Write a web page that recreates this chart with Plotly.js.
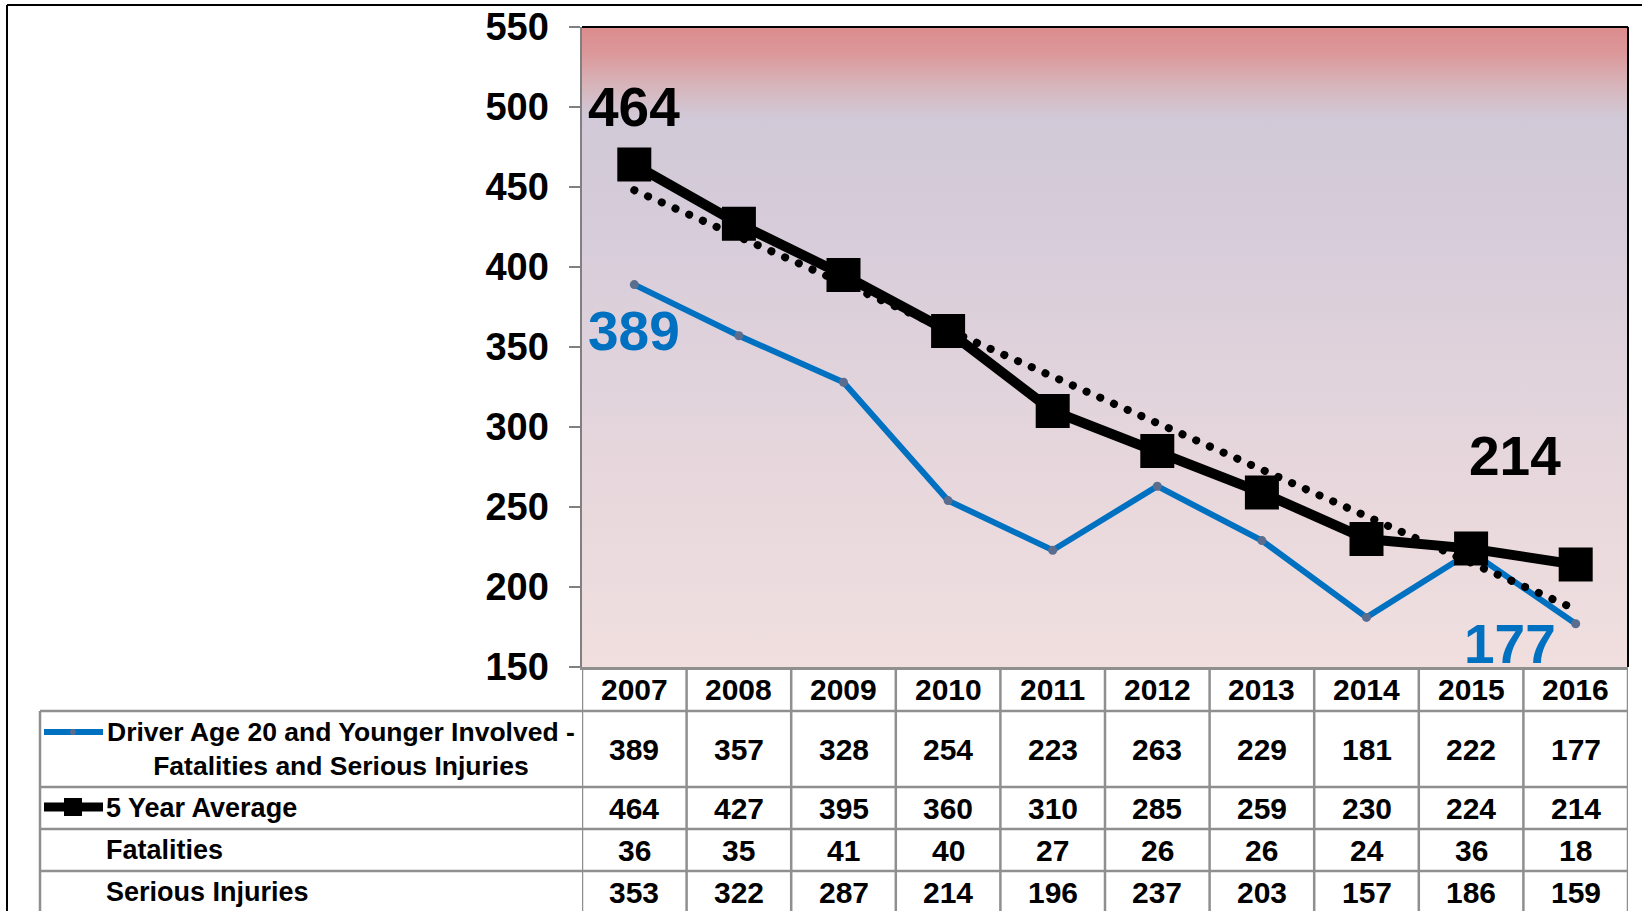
<!DOCTYPE html>
<html>
<head>
<meta charset="utf-8">
<script src="https://cdn.plot.ly/plotly-3.0.1.min.js"></script>
<style>
  html, body { margin: 0; padding: 0; background: #ffffff; }
  #chart { width: 1642px; height: 911px; }
  .scatterlayer .trace:nth-child(3) .js-line { stroke-linecap: round; }
</style>
</head>
<body>
<div id="chart"></div>
<script>
// ---------------- DATA ----------------
const years = [2007, 2008, 2009, 2010, 2011, 2012, 2013, 2014, 2015, 2016];
const youngDriverFSI = [389, 357, 328, 254, 223, 263, 229, 181, 222, 177];
const fiveYearAverage = [464, 427, 395, 360, 310, 285, 259, 230, 224, 214];
const fatalities = [36, 35, 41, 40, 27, 26, 26, 24, 36, 18];
const seriousInjuries = [353, 322, 287, 214, 196, 237, 203, 157, 186, 159];
const trendYears = [2007, 2016];
const trendValues = [448, 186];
const yTickValues = [150, 200, 250, 300, 350, 400, 450, 500, 550];
const rowLabels = [
  'Driver Age 20 and Younger Involved -<br>Fatalities and Serious Injuries',
  '5 Year Average',
  'Fatalities',
  'Serious Injuries'
];
const tableRows = [youngDriverFSI, fiveYearAverage, fatalities, seriousInjuries];

// ---------------- LAYOUT HELPERS ----------------
const W = 1642, H = 911;
const M = { l: 582, r: 14, t: 27, b: 244 };
const PW = W - M.l - M.r;
const PH = H - M.t - M.b;
const PX = px => (px - M.l) / PW;
const PY = py => (H - M.b - py) / PH;

const FONT = 'Liberation Sans, Arial, Helvetica, sans-serif';
const BLUE = '#0070c0';
const GRID = '#8f8f8f';

// gradient background image for plot area
const svgBg =
  '<svg xmlns="http://www.w3.org/2000/svg" width="100" height="100" preserveAspectRatio="none">' +
  '<defs><linearGradient id="g" x1="0" y1="0" x2="0" y2="1">' +
  '<stop offset="0" stop-color="#dc8c8d"/>' +
  '<stop offset="0.04" stop-color="#dc9799"/>' +
  '<stop offset="0.09" stop-color="#d7b4ba"/>' +
  '<stop offset="0.14" stop-color="#d1c9d7"/>' +
  '<stop offset="0.35" stop-color="#d8cdda"/>' +
  '<stop offset="0.65" stop-color="#e5d6dc"/>' +
  '<stop offset="1" stop-color="#f1dfdf"/>' +
  '</linearGradient></defs>' +
  '<rect x="0" y="0" width="100" height="100" fill="url(#g)"/></svg>';
const bgSrc = 'data:image/svg+xml;charset=utf-8,' + encodeURIComponent(svgBg);

// ---------------- TRACES ----------------
const traces = [
  {
    type: 'scatter', mode: 'lines+markers', name: 'Driver Age 20 and Younger Involved',
    x: years, y: youngDriverFSI,
    line: { color: BLUE, width: 6 },
    marker: { color: '#5b6d8e', size: 9, symbol: 'circle' },
    hoverinfo: 'x+y', showlegend: false
  },
  {
    type: 'scatter', mode: 'lines+markers', name: '5 Year Average',
    x: years, y: fiveYearAverage,
    line: { color: '#000000', width: 10 },
    marker: { color: '#000000', size: 34, symbol: 'square' },
    hoverinfo: 'x+y', showlegend: false
  },
  {
    type: 'scatter', mode: 'lines', name: 'Trend',
    x: trendYears, y: trendValues,
    line: { color: '#000000', width: 8, dash: '0.1px,14.9px' },
    hoverinfo: 'skip', showlegend: false
  }
];

// ---------------- SHAPES (table grid, frame, legend keys) ----------------
const shapes = [];
const tableTop = PY(711), tableBottom = PY(925);
const rowLines = [711, 787, 829, 871];
// vertical column lines (category boundaries)
for (let k = 0; k <= years.length; k++) {
  shapes.push({
    type: 'line', xref: 'x', yref: 'paper',
    x0: years[0] - 0.5 + k, x1: years[0] - 0.5 + k,
    y0: 0, y1: tableBottom,
    line: { color: GRID, width: 2.5 }
  });
}
// table left border
shapes.push({ type: 'line', xref: 'paper', yref: 'paper', x0: PX(40), x1: PX(40), y0: tableTop, y1: tableBottom, line: { color: GRID, width: 2.5 } });
// horizontal row lines
rowLines.forEach(py => {
  shapes.push({ type: 'line', xref: 'paper', yref: 'paper', x0: PX(40), x1: 1, y0: PY(py), y1: PY(py), line: { color: GRID, width: 2.5 } });
});
// plot area top & right border
shapes.push({ type: 'line', xref: 'paper', yref: 'paper', x0: 0, x1: 1, y0: 1, y1: 1, line: { color: '#000000', width: 2 } });
shapes.push({ type: 'line', xref: 'paper', yref: 'paper', x0: 1, x1: 1, y0: 0, y1: 1, line: { color: '#000000', width: 2 } });
// outer chart frame
shapes.push({ type: 'line', xref: 'paper', yref: 'paper', x0: PX(7), x1: PX(1660), y0: PY(5), y1: PY(5), line: { color: '#000000', width: 2 } });
shapes.push({ type: 'line', xref: 'paper', yref: 'paper', x0: PX(7), x1: PX(7), y0: PY(5), y1: PY(930), line: { color: '#000000', width: 2 } });
// legend key: blue line with dot
shapes.push({ type: 'line', xref: 'paper', yref: 'paper', x0: PX(44), x1: PX(103), y0: PY(732), y1: PY(732), line: { color: BLUE, width: 6 } });
shapes.push({ type: 'circle', xref: 'paper', yref: 'paper', x0: PX(70), x1: PX(76), y0: PY(729), y1: PY(735), fillcolor: '#5b6d8e', line: { width: 0 } });
// legend key: black line with square
shapes.push({ type: 'line', xref: 'paper', yref: 'paper', x0: PX(44), x1: PX(103), y0: PY(807), y1: PY(807), line: { color: '#000000', width: 9 } });
shapes.push({ type: 'rect', xref: 'paper', yref: 'paper', x0: PX(64), x1: PX(82), y0: PY(798), y1: PY(816), fillcolor: '#000000', line: { width: 0 } });

// ---------------- ANNOTATIONS ----------------
const annotations = [];
const bold = (size, color) => ({ family: FONT, size: size, color: color || '#000000', weight: 700 });

// year header labels
years.forEach(yr => {
  annotations.push({ xref: 'x', yref: 'paper', x: yr, y: PY(689), text: String(yr), showarrow: false, xanchor: 'center', yanchor: 'middle', font: bold(30) });
});
// table values
const rowCenters = [749, 808, 850, 892];
tableRows.forEach((row, r) => {
  row.forEach((v, i) => {
    annotations.push({ xref: 'x', yref: 'paper', x: years[i], y: PY(rowCenters[r]), text: String(v), showarrow: false, xanchor: 'center', yanchor: 'middle', font: bold(30) });
  });
});
// row labels
annotations.push({ xref: 'paper', yref: 'paper', x: PX(341), y: PY(749), text: rowLabels[0], showarrow: false, xanchor: 'center', yanchor: 'middle', align: 'center', font: bold(26.5) });
annotations.push({ xref: 'paper', yref: 'paper', x: PX(104), y: PY(808), text: rowLabels[1], showarrow: false, xanchor: 'left', yanchor: 'middle', font: bold(27) });
annotations.push({ xref: 'paper', yref: 'paper', x: PX(104), y: PY(850), text: rowLabels[2], showarrow: false, xanchor: 'left', yanchor: 'middle', font: bold(27) });
annotations.push({ xref: 'paper', yref: 'paper', x: PX(104), y: PY(892), text: rowLabels[3], showarrow: false, xanchor: 'left', yanchor: 'middle', font: bold(27) });

// big value callouts
annotations.push({ xref: 'x', yref: 'y', x: years[0], y: 500, text: String(fiveYearAverage[0]), showarrow: false, xanchor: 'center', yanchor: 'middle', font: bold(55) });
annotations.push({ xref: 'x', yref: 'y', x: years[0], y: 360, text: String(youngDriverFSI[0]), showarrow: false, xanchor: 'center', yanchor: 'middle', font: bold(55, BLUE) });
annotations.push({ xref: 'x', yref: 'y', x: 2015.42, y: 282, text: String(fiveYearAverage[9]), showarrow: false, xanchor: 'center', yanchor: 'middle', font: bold(55) });
annotations.push({ xref: 'x', yref: 'y', x: 2015.37, y: 164.5, text: String(youngDriverFSI[9]), showarrow: false, xanchor: 'center', yanchor: 'middle', font: bold(55, BLUE) });

const layout = {
  width: W, height: H,
  margin: M,
  paper_bgcolor: '#ffffff',
  plot_bgcolor: 'rgba(0,0,0,0)',
  showlegend: false,
  font: { family: FONT, color: '#000000' },
  xaxis: {
    range: [years[0] - 0.5, years[years.length - 1] + 0.5],
    showgrid: false, zeroline: false,
    showline: true, linecolor: GRID, linewidth: 2.5,
    showticklabels: false, ticks: '',
    fixedrange: true
  },
  yaxis: {
    range: [150, 550],
    tickvals: yTickValues,
    ticktext: yTickValues.map(String),
    showgrid: false, zeroline: false,
    showline: true, linecolor: '#808080', linewidth: 2.5,
    ticks: 'outside', ticklen: 11, tickwidth: 2, tickcolor: '#808080',
    ticklabelstandoff: 12,
    tickfont: bold(38),
    fixedrange: true
  },
  images: [{
    source: bgSrc, xref: 'paper', yref: 'paper',
    x: 0, y: 1, sizex: 1, sizey: 1,
    xanchor: 'left', yanchor: 'top',
    sizing: 'stretch', layer: 'below'
  }],
  shapes: shapes,
  annotations: annotations
};

Plotly.newPlot('chart', traces, layout, { displayModeBar: false, staticPlot: true });
</script>
</body>
</html>
